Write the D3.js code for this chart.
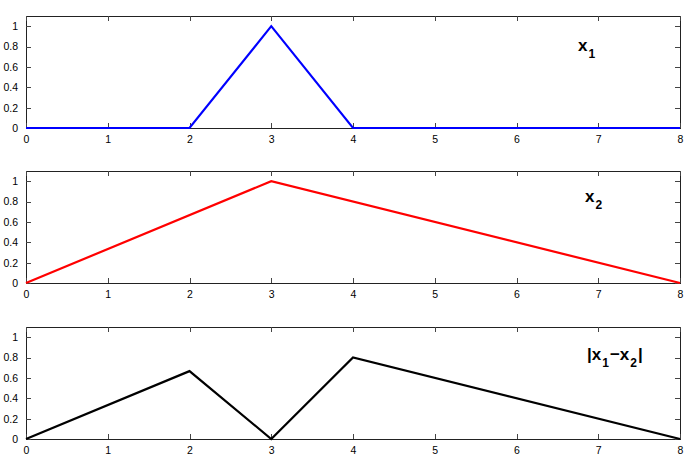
<!DOCTYPE html>
<html><head><meta charset="utf-8">
<script src="https://cdn.jsdelivr.net/npm/d3@7"></script>
<style>body{margin:0;background:#fff}svg{display:block}text{font-family:"Liberation Sans",Arial,Helvetica,sans-serif}</style>
</head><body>
<script>
const xTicks = [0,1,2,3,4,5,6,7,8];
const yTicks = [0,0.2,0.4,0.6,0.8,1];
const x1Data = [[0,0],[2,0],[3,1],[4,0],[8,0]];
const x2Data = [[0,0],[3,1],[8,0]];
const diffData = [[0,0],[2,0.6667],[3,0],[4,0.8],[8,0]];

const panels = [
  {data:x1Data, color:"#0000ff", top:16, label:[["x",""],["1","sub"]], lx:578, ly:51},
  {data:x2Data, color:"#ff0000", top:171, label:[["x",""],["2","sub"]], lx:585, ly:202},
  {data:diffData, color:"#000000", top:327, label:[["|x",""],["1","sub"],["\u2212x",""],["2","sub"],["|",""]], lx:587, ly:360}
];

const W=692,H=467, left=26, right=680, ph=112;
const svg=d3.select("body").append("svg").attr("width",W).attr("height",H);
const x=d3.scaleLinear().domain([0,8]).range([left,right]);

panels.forEach(p=>{
  const y=d3.scaleLinear().domain([0,1.1]).range([p.top+ph,p.top]);
  const g=svg.append("g");
  g.append("rect").attr("x",left).attr("y",p.top).attr("width",right-left).attr("height",ph)
    .attr("fill","none").attr("stroke","#222").attr("stroke-width",1).attr("shape-rendering","crispEdges");
  const ax=g.append("g").attr("transform",`translate(0,${p.top+ph})`)
    .call(d3.axisBottom(x).tickValues(xTicks).tickFormat(d3.format("d")).tickSizeInner(-5).tickSizeOuter(0).tickPadding(8));
  const axT=g.append("g").attr("transform",`translate(0,${p.top})`)
    .call(d3.axisTop(x).tickValues(xTicks).tickFormat("").tickSizeInner(-5).tickSizeOuter(0));
  const ay=g.append("g").attr("transform",`translate(${left},0)`)
    .call(d3.axisLeft(y).tickValues(yTicks).tickFormat(d=>d3.format("")(d)).tickSizeInner(-5).tickSizeOuter(0).tickPadding(8));
  const ayR=g.append("g").attr("transform",`translate(${right},0)`)
    .call(d3.axisRight(y).tickValues(yTicks).tickFormat("").tickSizeInner(-5).tickSizeOuter(0));
  [ax,axT,ay,ayR].forEach(a=>{
    a.select(".domain").remove();
    a.selectAll("line").attr("stroke","#444").attr("shape-rendering","crispEdges");
    a.selectAll("text").attr("font-size",10.5).attr("fill","#000").attr("font-family","'Liberation Sans',Arial,sans-serif");
  });
  const line=d3.line().x(d=>x(d[0])).y(d=>y(d[1]));
  g.append("path").datum(p.data).attr("d",line).attr("fill","none").attr("stroke",p.color).attr("stroke-width",2.2).attr("stroke-linejoin","miter");
  const t=g.append("text").attr("x",p.lx).attr("y",p.ly).attr("font-size",17).attr("font-weight","bold").attr("fill","#000");
  p.label.forEach(([s,k],i)=>{
    const ts=t.append("tspan").text(s);
    if(k==="sub"){ts.attr("dy",7).attr("font-size",12).attr("dx",1);}
    else if(i>0 && p.label[i-1][1]==="sub"){ts.attr("dy",-7).attr("dx",1);}
  });
});
</script>
</body></html>
